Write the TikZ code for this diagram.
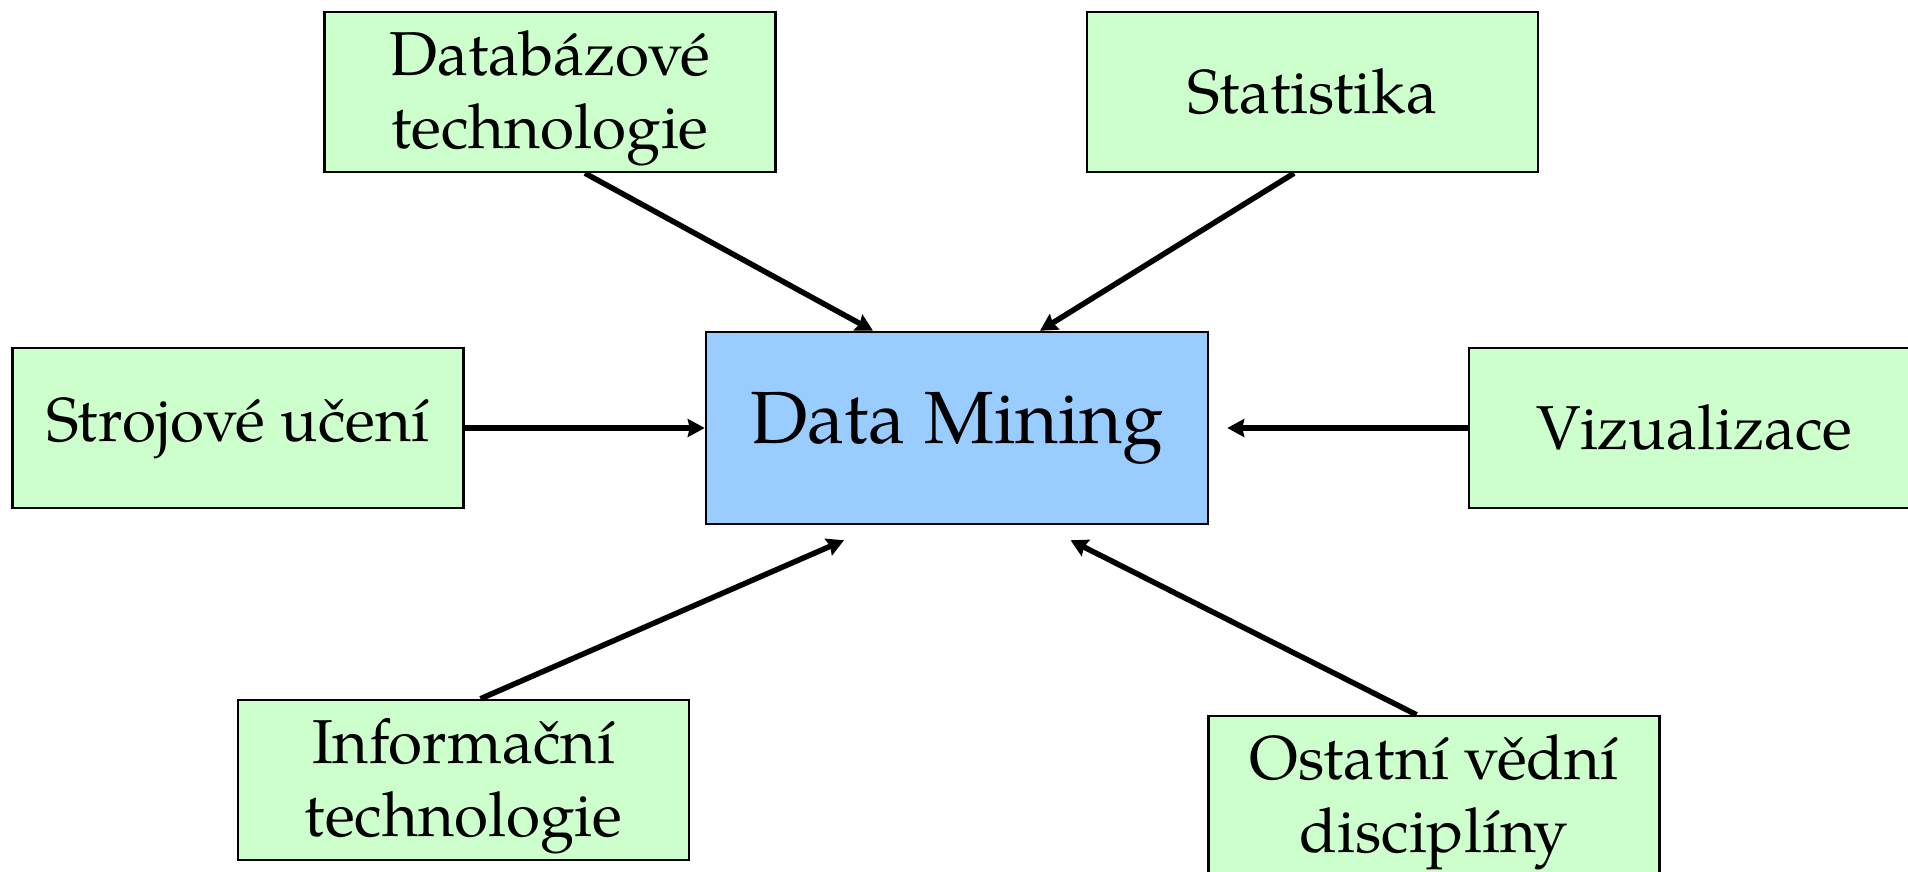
\documentclass[tikz,border=0pt]{standalone}
\usepackage{fontspec}
\setmainfont{texgyrepagella-regular.otf}
\usepackage{tikz}
\usetikzlibrary{positioning, arrows.meta, calc}

\definecolor{areagreen}{RGB}{204,255,204}
\definecolor{dmblue}{RGB}{153,204,255}

\tikzset{
	area/.style={draw, line width=2.5pt, fill=areagreen, minimum width=451pt, minimum height=160pt, inner sep=0pt, align=center, font=\fontsize{62}{73}\selectfont},
	twoline/.style={text depth=5pt},
	core/.style={draw, line width=2.5pt, fill=dmblue, minimum width=502pt, minimum height=192pt, inner sep=0pt, font=\fontsize{74}{86}\selectfont},
	feed/.style={line width=5.5pt, -{Stealth[length=17pt,width=18pt,inset=2pt]}},
}

\begin{document}
\begin{tikzpicture}[x=1pt,y=1pt,yscale=-1,xscale=1]
	\useasboundingbox (0,0) rectangle (1908,872);
	\clip (0,0) rectangle (1908,872);
	
	%Shape: Rectangle [core]
	\node[core] (dm) at (957,428) {Data Mining};
	%Shape: Rectangle [areas]
	\node[area, twoline] (db) at (550,92) {Databázové\\technologie};
	\node[area] (stat) at (1312.5,92) {Statistika};
	\node[area] (stroj) at (238,428) {Strojové učení};
	\node[area] (viz) at (1694.5,428) {Vizualizace};
	\node[area, twoline] (info) at (463.5,780) {Informační\\technologie};
	\node[area, twoline] (ost) at (1434,796) {Ostatní vědní\\disciplíny};
	
	%Straight Lines
	\draw[feed] ($(db.south)+(35,0)$) -- ($(dm.north)+(-84,0)$);
	\draw[feed] ($(stat.south)+(-18.5,0)$) -- ($(dm.north)+(83,0)$);
	\draw[feed] (stroj.east) -- (dm.west);
	\draw[feed] (viz.west) -- ($(dm.east)+(18,0)$);
	\draw[feed] ($(info.north)+(17,0)$) -- ($(dm.south)+(-113,15)$);
	\draw[feed] ($(ost.north)+(-17.5,0)$) -- ($(dm.south)+(113.5,15)$);
\end{tikzpicture}
\end{document}
